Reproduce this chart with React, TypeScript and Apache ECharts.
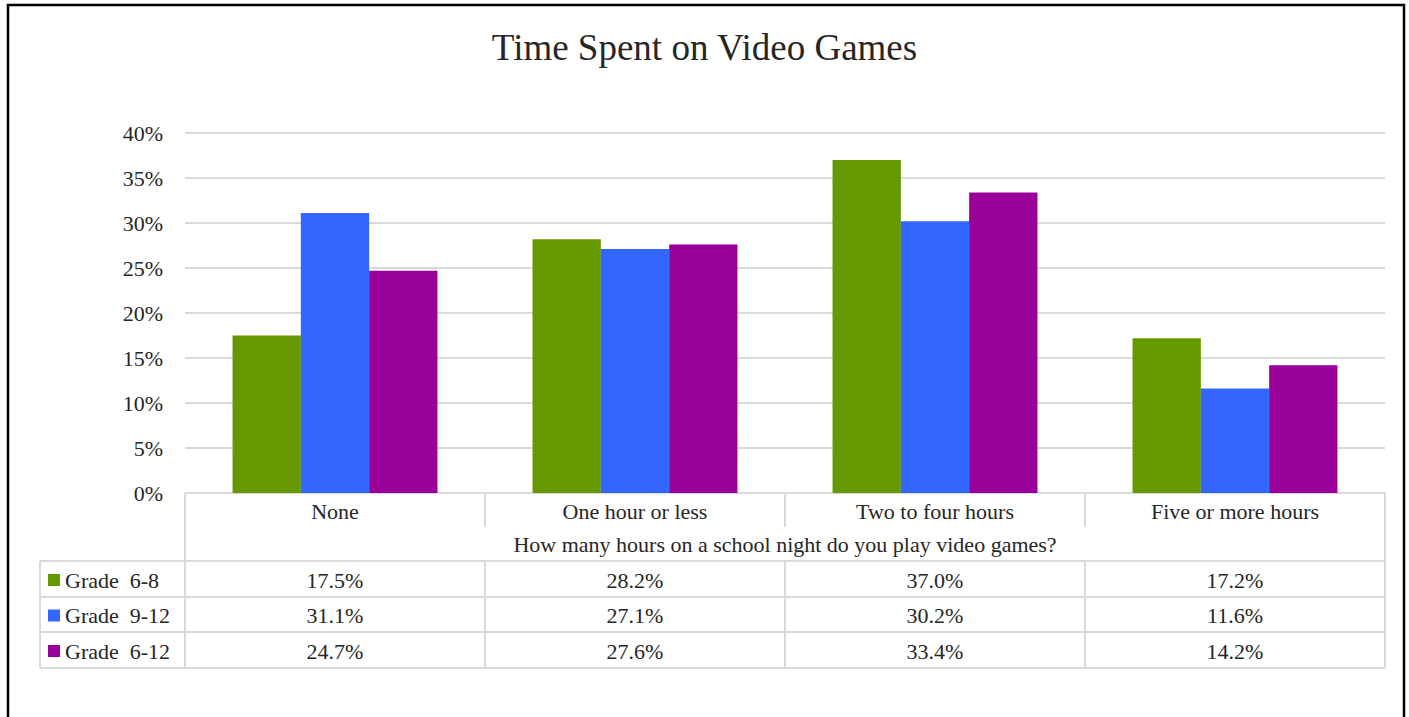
import React, { useEffect, useRef } from "react";
import * as echarts from "echarts";

const categories = ["None", "One hour or less", "Two to four hours", "Five or more hours"];
const seriesNames = ["Grade  6-8", "Grade  9-12", "Grade  6-12"];
const grade6to8 = [17.5, 28.2, 37.0, 17.2];
const grade9to12 = [31.1, 27.1, 30.2, 11.6];
const grade6to12 = [24.7, 27.6, 33.4, 14.2];
const colors = ["#669900", "#3366FF", "#990099"];
const axisTitle = "How many hours on a school night do you play video games?";
const chartTitle = "Time Spent on Video Games";

const FONT = "'Liberation Serif', 'DejaVu Serif', serif";
const LINE = "#d9d9d9";
const TEXT = "#262626";
const FS = 22;

export default function App() {
  const ref = useRef<HTMLDivElement>(null);
  useEffect(() => {
    document.body.style.margin = "0";
    const chart = echarts.init(ref.current!, null, { renderer: "svg" });
    const allSeries = [grade6to8, grade9to12, grade6to12];
    const gridLeft = 185;
    const gridRight = 1385;
    const axisY = 493;
    chart.setOption({
      animation: false,
      title: {
        text: chartTitle,
        left: "center",
        top: 24,
        textStyle: { fontFamily: FONT, fontSize: 37, fontWeight: "normal", color: TEXT },
      },
      grid: { left: gridLeft, right: 1409 - gridRight, top: 133, bottom: 717 - axisY },
      xAxis: {
        type: "category",
        data: categories,
        axisLine: { show: true, lineStyle: { color: LINE, width: 2 } },
        axisTick: { show: false },
        axisLabel: { fontFamily: FONT, fontSize: FS, color: TEXT, margin: 7 },
      },
      yAxis: {
        type: "value",
        min: 0,
        max: 40,
        interval: 5,
        axisLine: { show: false },
        axisTick: { show: false },
        axisLabel: { fontFamily: FONT, fontSize: FS, color: TEXT, margin: 22, formatter: "{value}%" },
        splitLine: { lineStyle: { color: LINE, width: 2 } },
      },
      series: allSeries.map((d, i) => ({
        type: "bar",
        name: seriesNames[i],
        data: d,
        barGap: "0%",
        barCategoryGap: "31.7%",
        itemStyle: { color: colors[i] },
      })),
    });

    const centers = categories.map((c) => chart.convertToPixel({ xAxisIndex: 0 }, c) as number);
    const half = (centers[1] - centers[0]) / 2;
    const bounds = [centers[0] - half, ...centers.map((c) => c + half)];
    const rowTops = [561, 597, 632, 668];
    const legendLeft = 40;
    const labelRowBottom = 527;
    const ls = { stroke: LINE, lineWidth: 2 };
    const els: any[] = [];
    const hline = (x1: number, x2: number, y: number) =>
      els.push({ type: "line", shape: { x1, y1: y, x2, y2: y }, style: ls, z: 10 });
    const vline = (x: number, y1: number, y2: number) =>
      els.push({ type: "line", shape: { x1: x, y1, x2: x, y2 }, style: ls, z: 10 });

    els.push({
      type: "rect",
      shape: { x: 8, y: 5, width: 1396, height: 730 },
      style: { fill: "none", stroke: "#000", lineWidth: 2.5 },
      z: 20,
    });

    vline(bounds[0], axisY, rowTops[3]);
    vline(bounds[4], axisY, rowTops[3]);
    for (let k = 1; k < 4; k++) {
      vline(bounds[k], axisY, labelRowBottom);
      vline(bounds[k], rowTops[0], rowTops[3]);
    }
    vline(legendLeft, rowTops[0], rowTops[3]);
    rowTops.forEach((y) => hline(legendLeft, bounds[4], y));

    els.push({
      type: "text",
      x: (bounds[0] + bounds[4]) / 2,
      y: (labelRowBottom + rowTops[0]) / 2,
      style: { text: axisTitle, font: `${FS}px ${FONT}`, fill: TEXT, align: "center", verticalAlign: "middle" },
      z: 11,
    });

    allSeries.forEach((d, r) => {
      const cy = (rowTops[r] + rowTops[r + 1]) / 2 + 1;
      els.push({
        type: "rect",
        shape: { x: 48, y: cy - 6, width: 12, height: 12 },
        style: { fill: colors[r] },
        z: 11,
      });
      els.push({
        type: "text",
        x: 65,
        y: cy,
        style: { text: seriesNames[r], font: `${FS}px ${FONT}`, fill: TEXT, align: "left", verticalAlign: "middle" },
        z: 11,
      });
      d.forEach((v, c) => {
        els.push({
          type: "text",
          x: centers[c],
          y: cy,
          style: { text: v.toFixed(1) + "%", font: `${FS}px ${FONT}`, fill: TEXT, align: "center", verticalAlign: "middle" },
          z: 11,
        });
      });
    });

    chart.setOption({ graphic: { elements: els } });
    return () => chart.dispose();
  }, []);
  return <div ref={ref} style={{ width: 1409, height: 717 }} />;
}
